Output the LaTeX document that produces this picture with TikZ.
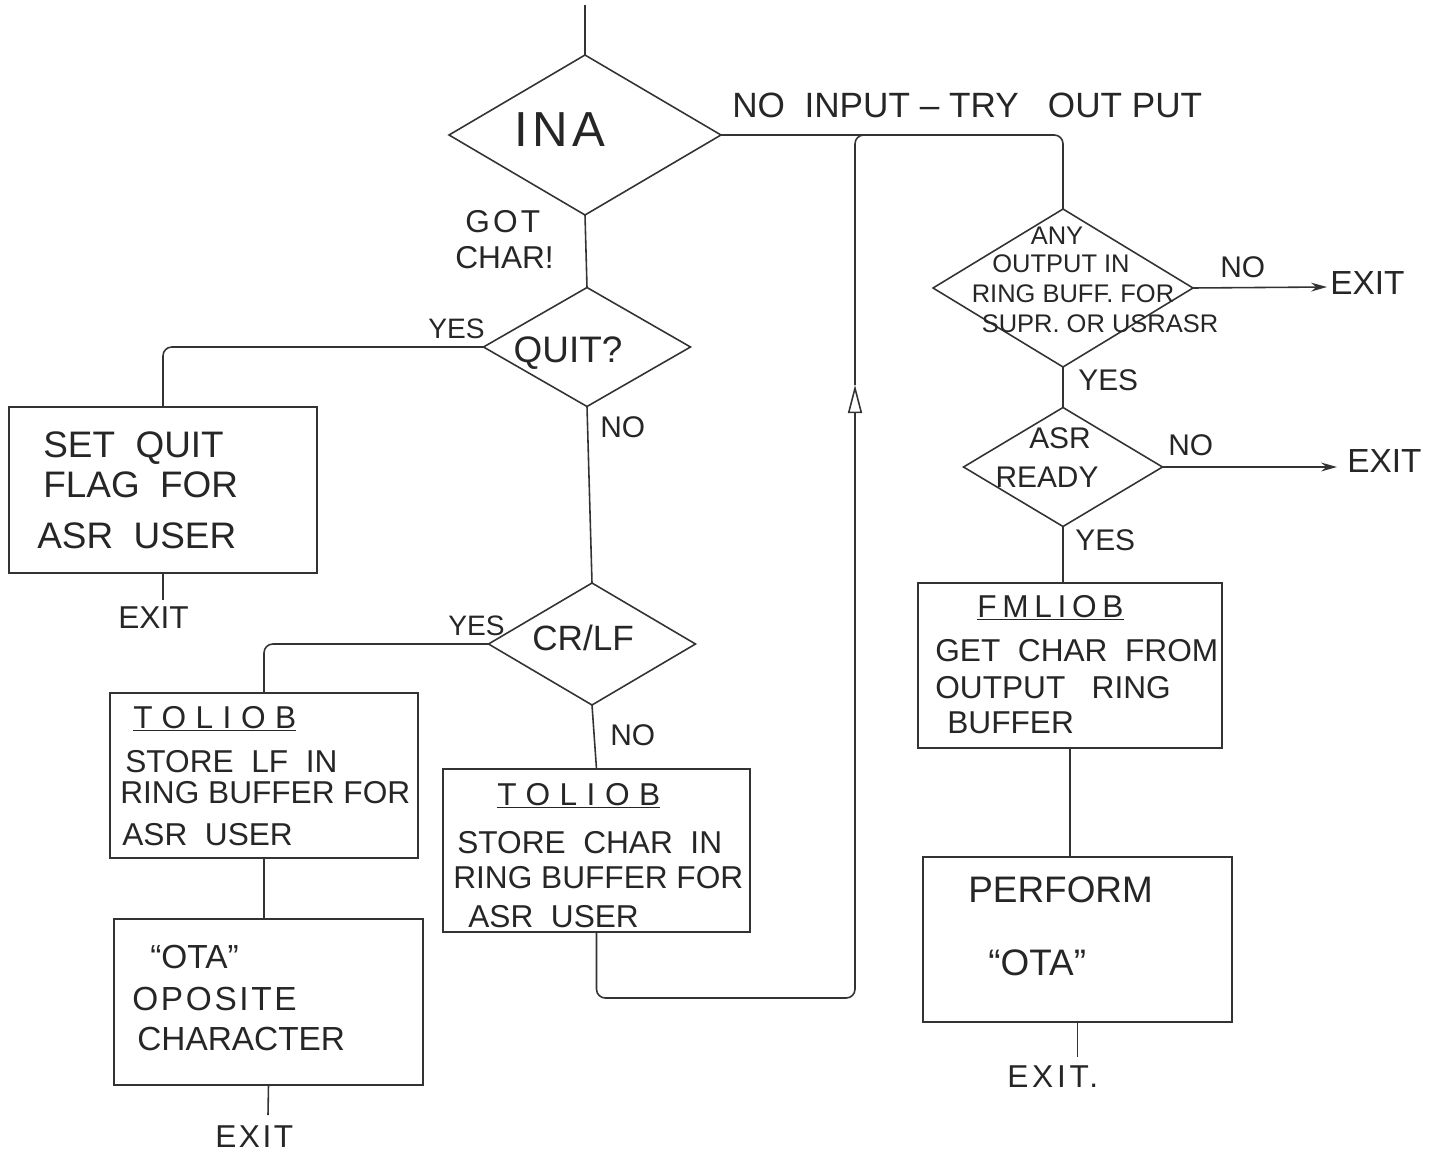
\documentclass[tikz,border=0pt]{standalone}
\usepackage{fontspec}
\setmainfont{Liberation Sans}
\usetikzlibrary{shapes.geometric,arrows.meta}
\newcommand\hfs[1]{\fontsize{#1}{#1}\selectfont}
\newcommand\spaced[2]{{\addfontfeature{LetterSpace=#1}#2}}
\begin{document}
\begin{tikzpicture}[x=0.02cm,y=-0.02cm,
  dia/.style={shape=diamond, draw=black!80, line width=0.9pt, inner sep=0pt, outer sep=0pt},
  box/.style={rectangle, draw=black!80, line width=0.9pt, inner sep=0pt, outer sep=0pt},
  tx/.style={inner sep=0pt, anchor=base west, text=black!85},
  tc/.style={inner sep=0pt, anchor=base, text=black!85},
  conn/.style={draw=black!80, line width=0.9pt, rounded corners=5pt},
  exitarrow/.style={conn, -{Stealth[length=9pt,width=5pt]}},
  looparrow/.style={conn, -{Triangle[open,length=16pt,width=8pt]}}
]
\path[use as bounding box] (0,0) rectangle (1443,1152);

% decisions
\node[dia, minimum width=5.44cm, minimum height=3.2cm] (ina) at (585,135) {};
\node[dia, minimum width=4.14cm, minimum height=2.38cm] (quit) at (587,347) {};
\node[dia, minimum width=4.14cm, minimum height=2.44cm] (crlf) at (592,644) {};
\node[dia, minimum width=5.2cm, minimum height=3.16cm] (any) at (1063,288) {};
\node[dia, minimum width=3.98cm, minimum height=2.38cm] (asr) at (1063,467) {};

% process boxes
\node[box, minimum width=6.16cm, minimum height=3.32cm] (quitbox) at (163,490) {};
\node[box, minimum width=6.16cm, minimum height=3.3cm] (tol1) at (264,775.5) {};
\node[box, minimum width=6.18cm, minimum height=3.32cm] (ota1) at (268.5,1002) {};
\node[box, minimum width=6.14cm, minimum height=3.26cm] (tol2) at (596.5,850.5) {};
\node[box, minimum width=6.08cm, minimum height=3.3cm] (fml) at (1070,665.5) {};
\node[box, minimum width=6.18cm, minimum height=3.3cm] (perf) at (1077.5,939.5) {};

% free ends
\coordinate (top) at (585,5);
\coordinate (e1) at (163,600);
\coordinate (e2) at (268,1115);
\coordinate (e3) at (1077.5,1057);
\coordinate (x1) at (1327,287);
\coordinate (x2) at (1337,467);
\coordinate (lb) at (855,998);
\coordinate (la) at (855,385);
\coordinate (lt) at (855,135);
\coordinate (lj) at (900,135);

% connectors
\draw[conn] (top) -- (ina.north);
\draw[conn] (ina.south) -- (quit.north);
\draw[conn] (quit.west) -| (quitbox.north);
\draw[conn] (quitbox.south) -- (e1);
\draw[conn] (quit.south) -- (crlf.north);
\draw[conn] (crlf.west) -| (tol1.north);
\draw[conn] (tol1.south) -- (tol1.south |- ota1.north);
\draw[conn] (ota1.south) -- (e2);
\draw[conn] (crlf.south) -- (tol2.north);
\draw[looparrow] (tol2.south) |- (lb) -- (la);
\draw[conn] (la) -- (lt) -- (lj);
\draw[conn] (ina.east) -| (any.north);
\draw[exitarrow] (any.east) -- (x1);
\draw[conn] (any.south) -- (asr.north);
\draw[exitarrow] (asr.east) -- (x2);
\draw[conn] (asr.south) -- (asr.south |- fml.north);
\draw[conn] (fml.south) -- (fml.south |- perf.north);
\draw[conn] (perf.south) -- (e3);

% texts in decisions
\node[tc, font=\hfs{28}] (tina) at (560,147) {\spaced{9}{INA}};
\node[tc, font=\hfs{21}] (tquit) at (568,362) {QUIT?};
\node[tx, font=\hfs{20}] (tcrlf) at (532,650) {CR/LF};
\node[tc, font=\hfs{14.5}] (tany1) at (1057,244) {ANY};
\node[tc, font=\hfs{14.5}] (tany2) at (1061,273) {OUTPUT IN};
\node[tc, font=\hfs{14.5}] (tany3) at (1073,302) {RING BUFF. FOR};
\node[tc, font=\hfs{14.5}] (tany4) at (1100,332) {SUPR. OR USRASR};
\node[tc, font=\hfs{17}] (tasr1) at (1060,448) {ASR};
\node[tc, font=\hfs{17}] (tasr2) at (1047,487) {READY};

% texts in boxes
\node[tx, font=\hfs{21}] (tq1) at (43,457) {SET\ \ QUIT};
\node[tx, font=\hfs{21}] (tq2) at (43,497) {FLAG\ \ FOR};
\node[tx, font=\hfs{21}] (tq3) at (37,548) {ASR\ \ USER};

\node[tx, font=\hfs{18}] (tt11) at (133,728) {\underline{\spaced{30}{TOLIOB}}};
\node[tx, font=\hfs{18}] (tt12) at (125,772) {STORE\ \ LF\ \ IN};
\node[tx, font=\hfs{18}] (tt13) at (120,803) {RING BUFFER FOR};
\node[tx, font=\hfs{18}] (tt14) at (122,845) {ASR\ \ USER};

\node[tx, font=\hfs{19}] (to1) at (150,968) {``OTA''};
\node[tx, font=\hfs{19}] (to2) at (132,1010) {\spaced{8}{OPOSITE}};
\node[tx, font=\hfs{19}] (to3) at (137,1050) {CHARACTER};

\node[tx, font=\hfs{18}] (tt21) at (497,805) {\underline{\spaced{30}{TOLIOB}}};
\node[tx, font=\hfs{18}] (tt22) at (457,853) {STORE\ \ CHAR\ \ IN};
\node[tx, font=\hfs{18}] (tt23) at (453,888) {RING BUFFER FOR};
\node[tx, font=\hfs{18}] (tt24) at (468,927) {ASR\ \ USER};

\node[tx, font=\hfs{18}] (tf1) at (977,617) {\underline{\spaced{18}{FMLIOB}}};
\node[tx, font=\hfs{18}] (tf2) at (935,661) {GET\ \ CHAR\ \ FROM};
\node[tx, font=\hfs{18}] (tf3) at (935,698) {OUTPUT\ \ \ RING};
\node[tx, font=\hfs{18}] (tf4) at (947,733) {BUFFER};

\node[tx, font=\hfs{21}] (tp1) at (968,902) {PERFORM};
\node[tx, font=\hfs{21}] (tp2) at (988,975) {``OTA''};

% labels
\node[tx, font=\hfs{20}] (lnoin) at (732,118) {NO\ \ INPUT -- TRY\ \ \ OUT PUT};
\node[tx, font=\hfs{18}] (lgot1) at (465,233) {\spaced{10}{GOT}};
\node[tx, font=\hfs{18}] (lgot2) at (455,268) {CHAR!};
\node[tx, font=\hfs{16}] (lyes1) at (428,338) {YES};
\node[tx, font=\hfs{17}] (lno1) at (600,437) {NO};
\node[tx, font=\hfs{18}] (lexit1) at (118,628) {EXIT};
\node[tx, font=\hfs{16}] (lyes2) at (448,635) {YES};
\node[tx, font=\hfs{17}] (lno2) at (610,745) {NO};
\node[tx, font=\hfs{18}] (lexit2) at (215,1147) {\spaced{8}{EXIT}};
\node[tx, font=\hfs{17}] (lno3) at (1220,277) {NO};
\node[tx, font=\hfs{19}] (lexit3) at (1330,295) {EXIT};
\node[tx, font=\hfs{17}] (lyes3) at (1078,390) {YES};
\node[tx, font=\hfs{17}] (lno4) at (1168,455) {NO};
\node[tx, font=\hfs{19}] (lexit4) at (1347,472) {EXIT};
\node[tx, font=\hfs{17}] (lyes4) at (1075,550) {YES};
\node[tx, font=\hfs{18}] (lexit5) at (1007,1087) {\spaced{12}{EXIT.}};
\end{tikzpicture}
\end{document}
